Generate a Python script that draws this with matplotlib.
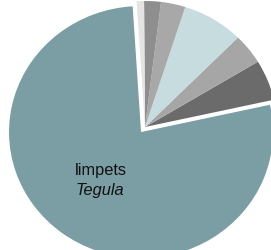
import matplotlib
matplotlib.use("Agg")
import matplotlib.pyplot as plt

# slices, counterclockwise from the dark wedge on the right
labels = ["dark", "gray3", "lightblue", "gray2", "gray1", "lightgray", "limpets Tegula"]
values = [5.2, 3.9, 7.5, 3.0, 2.05, 0.9, 77.5]
colors = ["#6b6b6b", "#a6a6a6", "#c6dcdf", "#a8a8a8", "#8e8e8e", "#e4e4e4", "#7a9ea3"]
explode = [0, 0, 0, 0, 0, 0, 0.05]

fig = plt.figure(figsize=(2.71, 2.51), dpi=100)
ax = fig.add_axes([0, 0, 1, 1])

ax.pie(values, colors=colors, explode=explode, startangle=12.5,
       counterclock=True, radius=1.0, wedgeprops=dict(linewidth=0))

# the original is a bit wider than tall, so let the axes stretch it
ax.set_aspect("auto")
ax.set_xlim(-145 / 132, 126 / 132)
ax.set_ylim(-123 / 126, 128 / 126)
ax.axis("off")

ax.text(-0.53, -0.37, "limpets", fontsize=11.8, family="Liberation Sans",
        ha="left", va="baseline", color="#111111")
ax.text(-0.53, -0.53, "Tegula", fontsize=11.8, family="Liberation Sans",
        style="italic", ha="left", va="baseline", color="#111111")

fig.savefig("out.png", dpi=100, facecolor="white")
